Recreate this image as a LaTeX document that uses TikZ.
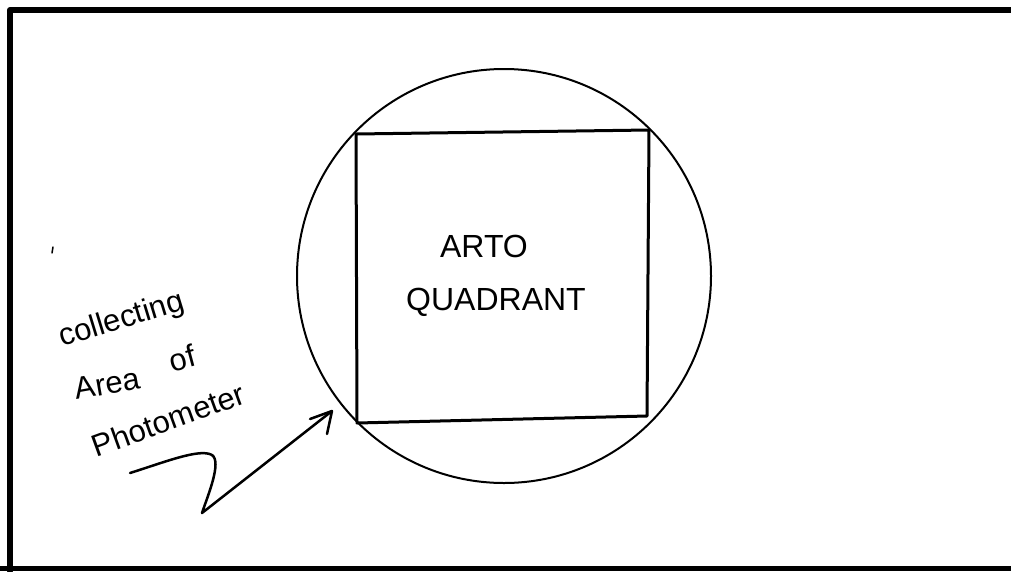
\documentclass[tikz,border=0pt]{standalone}
\usepackage{fontspec}
\setmainfont{Liberation Sans}
\begin{document}
\begin{tikzpicture}[x=1pt,y=-1pt,line join=round,line cap=round,
  big/.style={font=\fontsize{32}{32}\selectfont,inner sep=0pt,anchor=base},
  lbl/.style={font=\fontsize{31}{31}\selectfont,inner sep=0pt,anchor=base},
  frameline/.style={line width=6pt},
  quadline/.style={line width=3pt},
  pen/.style={line width=2.5pt}]
\useasboundingbox (0,0) rectangle (1011,571);
\fill[white] (0,0) rectangle (1011,571);
% frame
\draw[frameline] (10,571) -- (10,10) -- (1011,10);
\draw[line width=5pt] (0,568) -- (1011,568);
% photometer circle
\node[circle,draw,line width=2pt,minimum size=414pt,inner sep=0pt] (circ) at (504,276) {};
% quadrant
\coordinate (q1) at (356,134);
\coordinate (q2) at (649,130);
\coordinate (q3) at (647,416);
\coordinate (q4) at (357,423);
\draw[quadline] (q1) -- (q2) -- (q3) -- (q4) -- cycle;
\node[big] (arto) at (484,257) {ARTO};
\node[big] (quad) at (496,310) {QUADRANT};
% labels
\node[lbl,rotate=17] (coll) at (124,328) {collecting};
\node[lbl,rotate=10] (area) at (109,394) {Area};
\node[lbl,rotate=15] (of) at (185,369) {of};
\node[lbl,rotate=20] (phot) at (172,430) {Photometer};
% stray mark
\draw[line width=1.5pt] (53,247) -- (52,253);
% arrow
\coordinate (s) at (130,473);
\coordinate (tip) at (332,411);
\coordinate (b1) at (310,419);
\coordinate (b2) at (327,434);
\draw[pen] (s) .. controls (165,462) and (200,448) .. (212,455)
  .. controls (222,462) and (208,495) .. (202,513) -- (tip);
\draw[pen] (b1) -- (tip) -- (b2);
\end{tikzpicture}
\end{document}
